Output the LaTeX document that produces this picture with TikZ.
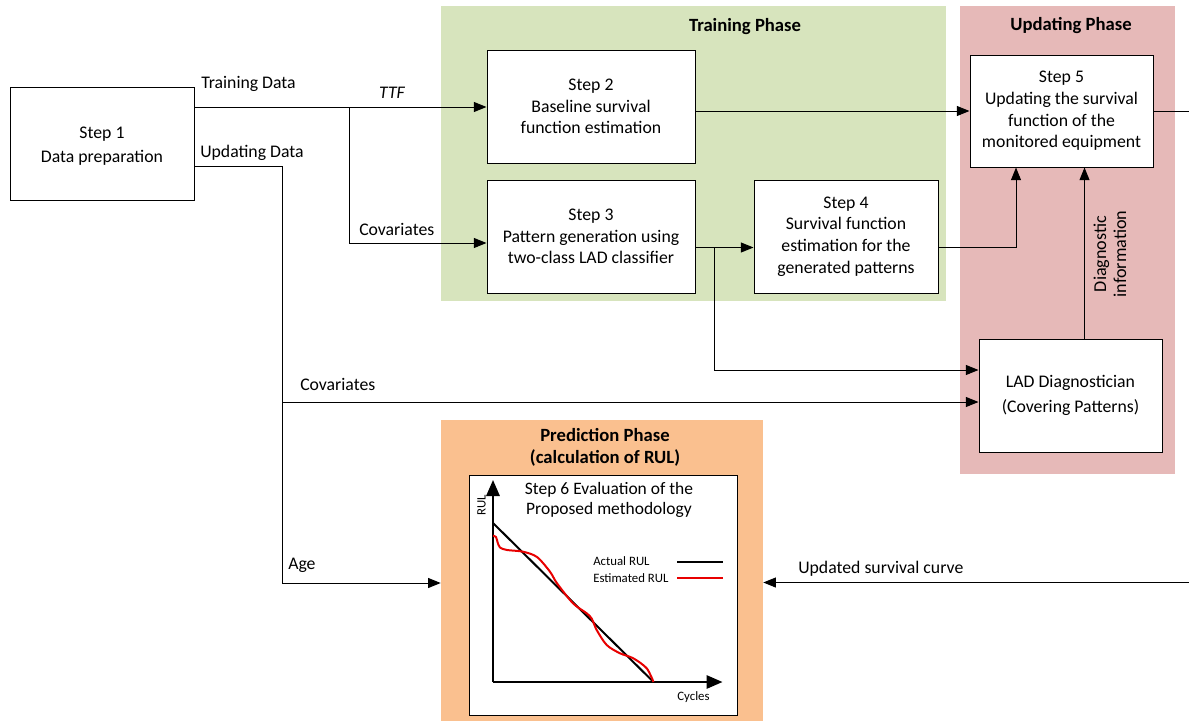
\documentclass[tikz,border=0pt]{standalone}
\usepackage{fontspec}
\setmainfont{Carlito}
\usetikzlibrary{arrows.meta}

\definecolor{traingreen}{RGB}{215,228,189}
\definecolor{updred}{RGB}{230,185,184}
\definecolor{predorange}{RGB}{250,192,143}
\definecolor{estred}{RGB}{232,0,0}

\begin{document}
\begin{tikzpicture}[x=0.75pt,y=-0.75pt,
  every node/.style={font=\fontsize{13.3}{16.25}\selectfont},
  stepbox/.style={draw, fill=white, line width=0.75pt, align=center, inner sep=0pt},
  phase/.style={draw=none, inner sep=0pt},
  phasetitle/.style={inner sep=0pt, align=center, font=\fontsize{14}{16.2}\selectfont\bfseries},
  conn/.style={line width=0.75pt},
  arr/.style={conn, -{Triangle[length=9.5pt,width=7.5pt]}},
  axis/.style={line width=1.5pt, -{Triangle[length=12pt,width=10pt]}},
  lbl/.style={inner sep=0pt},
  small/.style={inner sep=0pt, font=\fontsize{9.6}{11}\selectfont},
  ]
\useasboundingbox (0,0) rectangle (1189,721);

% phase backgrounds
\node[phase, fill=traingreen, minimum width=378.75pt, minimum height=221.25pt] (train) at (693.5,153.5) {};
\node[phase, fill=updred, minimum width=161.25pt, minimum height=351pt] (upd) at (1067.5,240) {};
\node[phase, fill=predorange, minimum width=241.5pt, minimum height=225.75pt] (pred) at (602,570.5) {};

\node[phasetitle] (traint) at (745,27) {Training Phase};
\node[phasetitle] (updt) at (1071,26) {Updating Phase};
\node[phasetitle] (predt) at (605,447.5) {Prediction Phase\\(calculation of RUL)};

% process steps
\node[stepbox, minimum width=138pt, minimum height=84.75pt] (s1) at (102,143.5) {};
\node[lbl, align=center, font=\fontsize{13.3}{18}\selectfont] (s1t) at (102,146.5) {Step 1\\Data preparation};
\node[stepbox, minimum width=156pt, minimum height=84.75pt] (s2) at (591,106.5) {Step 2\\Baseline survival\\function estimation};
\node[stepbox, minimum width=156pt, minimum height=84.75pt] (s3) at (591,236.5) {Step 3\\Pattern generation using\\two-class LAD classifier};
\node[stepbox, minimum width=138pt, minimum height=84.75pt] (s4) at (846,236.5) {Step 4\\Survival function\\estimation for the\\generated patterns};
\node[stepbox, minimum width=137.25pt, minimum height=84pt] (s5) at (1061.5,111) {Step 5\\Updating the survival\\function of the\\monitored equipment};
\node[stepbox, minimum width=137.25pt, minimum height=84.75pt, font=\fontsize{13.3}{18.5}\selectfont] (lad) at (1070.5,395.5) {LAD Diagnostician\\(Covering Patterns)};
\node[stepbox, minimum width=201pt, minimum height=180pt] (s6) at (603,595) {};

% training data
\coordinate (j1) at (349,107);
\coordinate (j1b) at (349,243);
\draw[conn] (s1.east |- j1) -- (j1);
\draw[arr] (j1) -- (s2.west |- j1);
\draw[arr] (j1) -- (j1b) -- (s3.west |- j1b);

% updating data
\coordinate (ud) at (282,166);
\coordinate (cv) at (282,402);
\coordinate (age) at (282,583);
\draw[conn] (s1.east |- ud) -- (ud);
\draw[arr] (ud) -- (age) -- (pred.west |- age);
\draw[arr] (cv) -- (lad.west |- cv);

% training phase flows
\draw[arr] (s2.east |- s5.west) -- (s5.west);
\coordinate (j3) at (714,247.5);
\coordinate (j3b) at (714,370);
\draw[arr] (s3.east |- j3) -- (s4.west |- j3);
\draw[arr] (j3) -- (j3b) -- (lad.west |- j3b);
\coordinate (up4) at (1016,0);
\draw[arr] (s4.east |- j3) -| (s5.south -| up4);

% diagnostic information
\coordinate (dg) at (1084.5,0);
\draw[arr] (lad.north -| dg) -- (s5.south -| dg);

% outputs leaving to the right edge
\coordinate (out) at (1189,111);
\draw[conn] (s5.east) -- (out);
\coordinate (upin) at (1189,582.5);
\draw[arr] (upin) -- (pred.east |- upin);

% connector labels
\node[lbl, anchor=west] (ltd) at (201,84) {Training Data};
\node[lbl, font=\fontsize{13.3}{16}\selectfont\itshape] (lttf) at (392,93) {TTF};
\node[lbl, anchor=west] (lud) at (200,153) {Updating Data};
\node[lbl, anchor=west] (lcov1) at (359,229) {Covariates};
\node[lbl, anchor=west] (lcov2) at (300,384) {Covariates};
\node[lbl, anchor=west] (lage) at (288,565) {Age};
\node[lbl, anchor=west] (lusc) at (798,569) {Updated survival curve};
\node[lbl, rotate=90, align=center, font=\fontsize{13.6}{15}\selectfont] (ldiag) at (1110,254) {Diagnostic\\information};

% step 6 chart
\node[lbl, align=center, font=\fontsize{13.1}{15.6}\selectfont] (s6t) at (609,500) {Step 6 Evaluation of the\\Proposed methodology};
\coordinate (o) at (493,682);
\coordinate (ytip) at (493,480);
\coordinate (xtip) at (722.5,682);
\draw[axis] (o) -- (ytip);
\draw[axis] (o) -- (xtip);
\coordinate (a0) at (493,523);
\coordinate (a1) at (653.5,682);
\draw[line width=1.5pt] (a0) -- (a1);
\draw[estred, line width=1.5pt, line join=round] plot[smooth, tension=0.5] coordinates {
  (493,535.7) (496,537) (497.5,542) (500,547.5) (507,550) (523,551.7) (537,557)
  (550,571.7) (557,583.3) (573,603.3) (586.7,613.3) (591.7,618.6) (596.7,630)
  (606.7,645) (620,653.3) (633.3,658.3) (646.7,668.3) (653.5,682)};
\node[small, anchor=west] (lact) at (593,561.5) {Actual RUL};
\node[small, anchor=west] (lest) at (593,578) {Estimated RUL};
\coordinate (la0) at (677,561.5);
\coordinate (la1) at (723,561.5);
\coordinate (le0) at (677,578);
\coordinate (le1) at (723,578);
\draw[line width=1.5pt] (la0) -- (la1);
\draw[estred, line width=1.5pt] (le0) -- (le1);
\node[small, rotate=90] (lrul) at (481.5,505) {RUL};
\node[small] (lcyc) at (693.5,697.5) {Cycles};
\end{tikzpicture}
\end{document}
